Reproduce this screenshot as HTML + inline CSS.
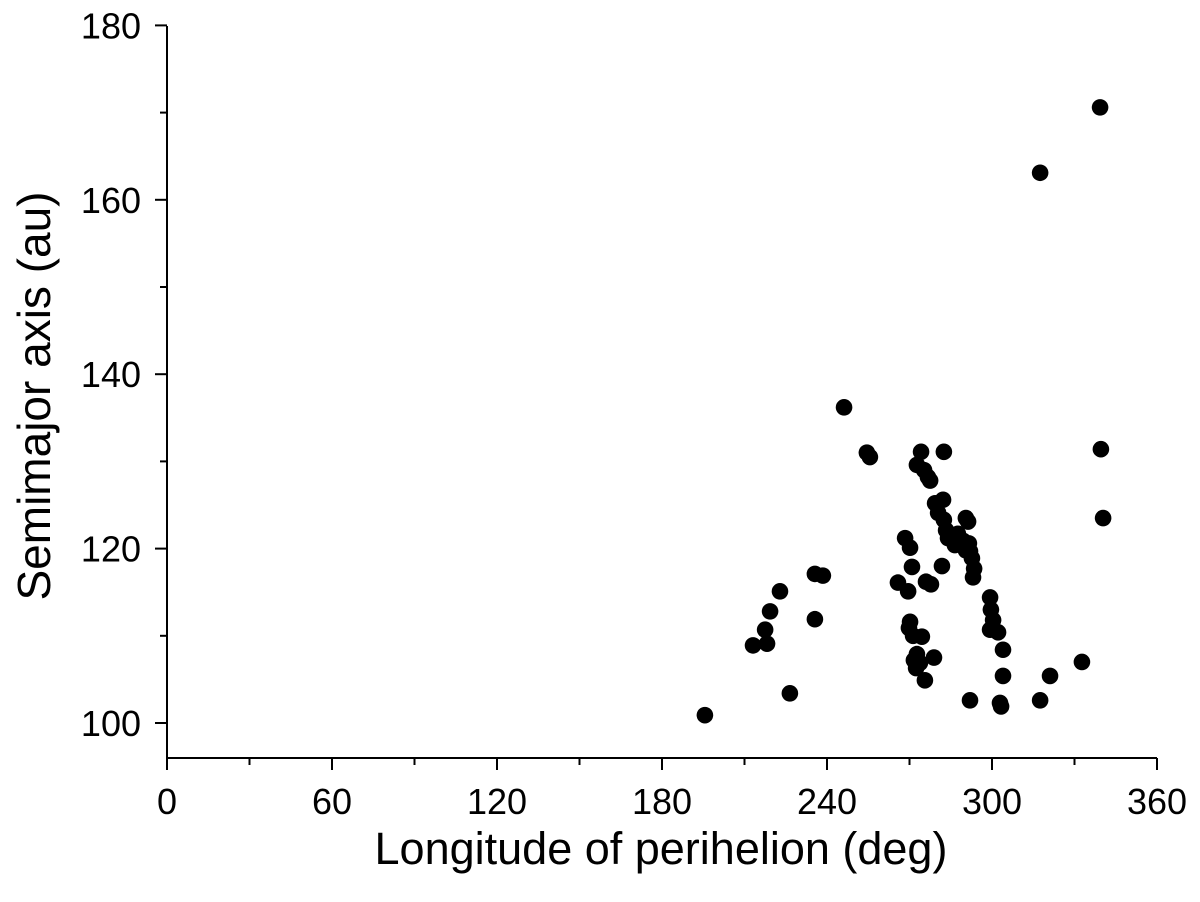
<!DOCTYPE html>
<html><head><meta charset="utf-8"><style>body{margin:0;background:#fff}svg{display:block}text{font-family:"Liberation Sans",sans-serif;fill:#000}</style></head>
<body>
<svg id="chart" width="1200" height="902" viewBox="0 0 1200 902"></svg>
<script>
const xVals=[195.6,213.1,217.5,219.3,218.2,222.9,226.5,235.6,235.6,238.5,246.2,254.5,255.6,265.8,268.4,270.2,269.5,270.2,270.9,269.8,271.3,271.6,272.4,272.7,274.5,273.8,275.6,278.9,272.7,274.2,275.3,276.7,277.5,276.0,277.8,279.3,280.4,281.8,282.2,282.5,282.5,283.3,284.0,286.5,287.6,289.5,290.5,290.5,291.3,291.6,292.7,293.5,293.1,292.0,299.3,299.6,300.4,299.3,302.2,304.0,304.0,292.0,302.9,303.3,317.5,321.1,332.7,317.5,339.3,339.6,340.4];
const yVals=[100.9,108.9,110.7,112.8,109.1,115.1,103.4,111.9,117.1,116.9,136.2,131.0,130.5,116.1,121.2,120.1,115.1,111.6,117.9,110.9,110.0,107.2,106.3,107.9,109.9,106.9,104.9,107.5,129.6,131.1,129.0,128.2,127.8,116.2,115.9,125.2,124.1,118.0,125.6,131.1,123.3,122.1,121.2,120.4,121.7,120.9,119.8,123.5,123.1,120.6,118.9,117.7,116.7,119.7,114.4,113.0,111.8,110.7,110.4,108.4,105.4,102.6,102.3,101.9,102.6,105.4,107.0,163.1,170.6,131.4,123.5];
const xTicks=[0,60,120,180,240,300,360];
const yTicks=[100,120,140,160,180];
const NS="http://www.w3.org/2000/svg";
const svg=document.getElementById('chart');
const X=v=>167+(v)*2.75;
const Y=v=>723-(v-100)*8.72;
function mk(t,a,p){const e=document.createElementNS(NS,t);for(const k in a)e.setAttribute(k,a[k]);(p||svg).appendChild(e);return e;}
const ax=mk('g',{});


const yl=mk('line',{x1:167,y1:26,x2:167,y2:758,stroke:'#000','stroke-width':2},ax);


const xl=mk('line',{x1:167,y1:758,x2:1157,y2:758,stroke:'#000','stroke-width':2},ax);


for(let v=0;v<=360;v+=30){const major=v%60===0;const t=mk('line',{x1:X(v),y1:758,x2:X(v),y2:758+(major?12:7),stroke:'#000','stroke-width':2},ax);

}
for(let v=100;v<=180;v+=10){const major=v%20===0;const t=mk('line',{x1:167,y1:Y(v),x2:167-(major?12:7),y2:Y(v),stroke:'#000','stroke-width':2},ax);

}
xTicks.forEach(v=>{const t=mk('text',{x:X(v),y:814,'font-size':36,'text-anchor':'middle'},ax);t.textContent=v;

});
yTicks.forEach(v=>{const t=mk('text',{x:141,y:Y(v)+13,'font-size':36,'text-anchor':'end'},ax);t.textContent=v;

});
const xt=mk('text',{x:661,y:864,'font-size':45,'text-anchor':'middle'});xt.textContent='Longitude of perihelion (deg)';


const yt=mk('text',{x:0,y:0,'font-size':46,'text-anchor':'middle',transform:'translate(50,396) rotate(-90)'});yt.textContent='Semimajor axis (au)';


const pts=mk('g',{});


xVals.forEach((v,i)=>{const c=mk('circle',{cx:X(v),cy:Y(yVals[i]),r:8.3,fill:'#000'},pts);

});
</script>
</body></html>
